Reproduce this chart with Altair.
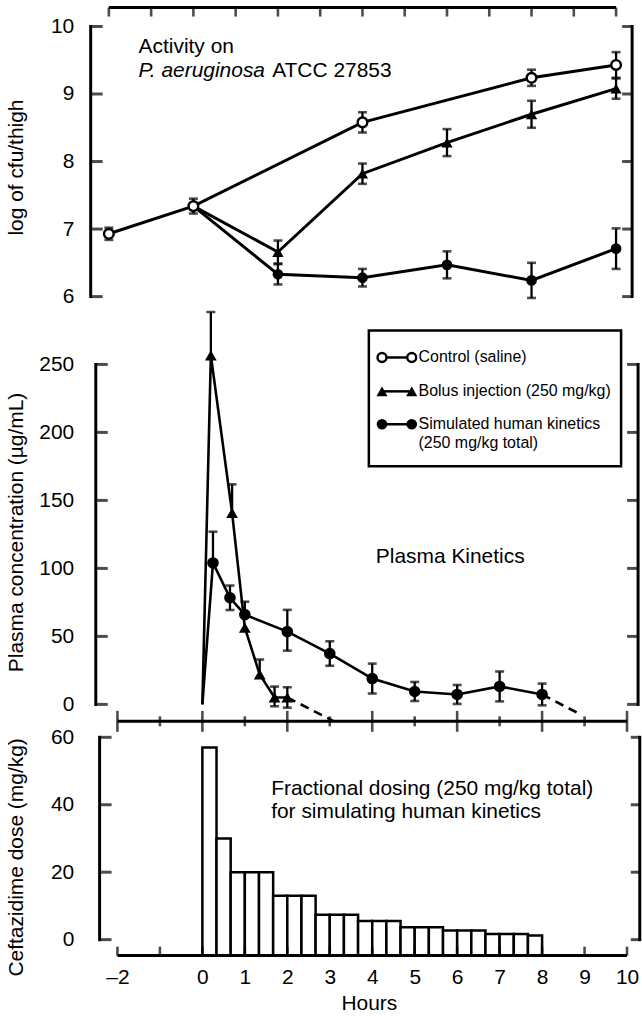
import altair as alt
import pandas as pd

FONT = "Liberation Sans"
INK = "black"

# ---------------------------------------------------------------
# Thigh counts, log10 cfu/thigh (mean, SD)
# ---------------------------------------------------------------
CTRL_HOURS = [-2, 0, 4, 8, 10]
CTRL_LOG_CFU = [6.93, 7.34, 8.58, 9.24, 9.43]
CTRL_LOG_SD = [0.09, 0.11, 0.15, 0.12, 0.19]

TREAT_HOURS = [0, 2, 4, 6, 8, 10]
BOLUS_LOG_CFU = [7.34, 6.66, 7.82, 8.28, 8.70, 9.08]
BOLUS_LOG_SD = [0.0, 0.17, 0.15, 0.20, 0.20, 0.15]
SIM_LOG_CFU = [7.34, 6.33, 6.28, 6.47, 6.24, 6.71]
SIM_LOG_SD = [0.0, 0.15, 0.13, 0.20, 0.26, 0.30]

# ---------------------------------------------------------------
# Plasma ceftazidime, µg/mL (mean, upper / lower error)
# ---------------------------------------------------------------
PK_START_HOURS = [0]
PK_START_CONC = [0]

BOLUS_PK_HOURS = [0.2, 0.7, 1.0, 1.35, 1.7, 2.0]
BOLUS_PK_CONC = [256.6, 140.8, 56.5, 22.0, 5.1, 5.1]
BOLUS_PK_ERR_UP = [32, 21, 0, 11, 8, 7.5]
BOLUS_PK_ERR_DOWN = [0, 0, 0, 0, 6.5, 7.5]

SIM_PK_HOURS = [0.25, 0.65, 1.0, 2, 3, 4, 5, 6, 7, 8]
SIM_PK_CONC = [104, 78.4, 66, 53.5, 37.4, 19, 9.5, 7.3, 13.2, 7.3]
SIM_PK_ERR_UP = [23, 9, 9.5, 16, 9, 11, 7, 7, 11, 8]
SIM_PK_ERR_DOWN = [0, 9, 0, 14, 9, 11, 7, 7, 11, 8]

# extrapolated (dashed) tails of the two concentration curves
BOLUS_TAIL_HOURS = [2.0, 3.07]
BOLUS_TAIL_CONC = [5.1, -12.0]
SIM_TAIL_HOURS = [8.0, 8.88]
SIM_TAIL_CONC = [7.3, -7.0]

# ---------------------------------------------------------------
# Fractional dosing: 24 doses given every 20 min (mg/kg)
# ---------------------------------------------------------------
DOSE_START_MIN = [0, 20, 40, 60, 80, 100, 120, 140, 160, 180, 200, 220,
                  240, 260, 280, 300, 320, 340, 360, 380, 400, 420, 440, 460]
DOSE_MG_KG = [57, 30, 20, 20, 20, 13, 13, 13, 7.4, 7.4, 7.4, 5.5,
              5.5, 5.5, 3.7, 3.7, 3.7, 2.7, 2.7, 2.7, 1.7, 1.7, 1.7, 1.2]
DOSE_SLOT_MIN = 20

HOUR_TICKS = [-2, -1, 0, 1, 2, 3, 4, 5, 6, 7, 8, 9, 10]
HOUR_LABELS = [-2, 0, 1, 2, 3, 4, 5, 6, 7, 8, 9, 10]

# ---------------------------------------------------------------
# scales and axes
# ---------------------------------------------------------------
W = 562
TOP_H, MID_H, BOT_H = 294, 422, 235

TOP_XS = alt.Scale(domain=[-2.665, 10.59], nice=False, zero=False)
TOP_YS = alt.Scale(domain=[5.94, 10.28], nice=False, zero=False)
PK_XS = alt.Scale(domain=[-2.864, 10.329], nice=False, zero=False)
PK_YS = alt.Scale(domain=[-12.46, 296.9], nice=False, zero=False)
DOSE_YS = alt.Scale(domain=[-4.73, 64.74], nice=False, zero=False)


def y_axis(values, title, title_y):
    return alt.Axis(values=values, title=title, domain=False, ticks=False, grid=False,
                    labelPadding=7, labelFont=FONT, labelFontSize=21, labelColor=INK,
                    labelOverlap=False,
                    titleFont=FONT, titleFontSize=21, titleFontWeight="normal",
                    titleColor=INK, titleAngle=270, titleX=-58, titleY=title_y,
                    titleAlign="center", titleBaseline="alphabetic")


HOURS_AXIS = alt.Axis(values=HOUR_LABELS,
                      labelExpr="datum.value < 0 ? '\u2013' + abs(datum.value) : datum.label",
                      domain=False, ticks=False, grid=False, labelFlush=False,
                      labelOverlap=False, labelPadding=11, labelFont=FONT,
                      labelFontSize=21, labelColor=INK,
                      title="Hours", titleFont=FONT, titleFontSize=21,
                      titleFontWeight="normal", titleColor=INK, titlePadding=5, titleX=289)

TOP_YA = y_axis([6, 7, 8, 9, 10], "log of cfu/thigh", 160)
MID_YA = y_axis([0, 50, 100, 150, 200, 250], "Plasma concentration (\u00b5g/mL)", 232)
BOT_YA = y_axis([0, 20, 40, 60], "Ceftazidime dose (mg/kg)", 136)


class Panel:
    def __init__(self, xs, ys, ya, xa=None):
        self.xs, self.ys, self.ya, self.xa = xs, ys, ya, xa
        self.layers = []

    def enc(self, x2=False, y2=False, text=False):
        e = {"x": alt.X("x:Q", scale=self.xs, axis=self.xa),
             "y": alt.Y("y:Q", scale=self.ys, axis=self.ya)}
        if x2:
            e["x2"] = alt.X2("x2:Q")
        if y2:
            e["y2"] = alt.Y2("y2:Q")
        if text:
            e["text"] = alt.Text("label:N")
        return e

    def add(self, frame, mark, **flags):
        self.layers.append(mark(alt.Chart(pd.DataFrame(frame))).encode(**self.enc(**flags)))

    # bracket-style axis line with inward ticks
    def spine(self, x, y0, y1, ticks, direction, length=12):
        self.add({"x": [x], "y": [y0], "y2": [y1]},
                 lambda c: c.mark_rule(color=INK, strokeWidth=3, strokeCap="square"), y2=True)
        self.add({"x": [x] * len(ticks), "y": ticks},
                 lambda c: c.mark_tick(orient="horizontal", size=length, thickness=3,
                                       xOffset=direction * length / 2, color=INK))

    def chart(self, h):
        return alt.layer(*self.layers).properties(width=W, height=h)


def error_frames(hours, vals, up, down):
    rules = {"x": [], "y": [], "y2": []}
    caps = {"x": [], "y": []}
    for h, v, u, d in zip(hours, vals, up, down):
        if u > 0 or d > 0:
            rules["x"].append(h)
            rules["y"].append(v - d)
            rules["y2"].append(v + u)
        if u > 0:
            caps["x"].append(h)
            caps["y"].append(v + u)
        if d > 0:
            caps["x"].append(h)
            caps["y"].append(v - d)
    return rules, caps


def line_mark(width=3, dash=None):
    if dash:
        return lambda c: c.mark_line(color=INK, strokeWidth=width, strokeDash=dash)
    return lambda c: c.mark_line(color=INK, strokeWidth=width)


rule_mark = lambda c: c.mark_rule(color=INK, strokeWidth=2.3)
cap_mark = lambda c: c.mark_tick(orient="horizontal", size=9, thickness=2.6, color=INK)
open_circle = lambda size: (lambda c: c.mark_point(shape="circle", filled=True, fill="white",
                                                   stroke=INK, strokeWidth=2.4, size=size, opacity=1))
dot = lambda size: (lambda c: c.mark_point(shape="circle", filled=True, color=INK, size=size, opacity=1))
tri = lambda size: (lambda c: c.mark_point(shape="triangle-up", filled=True, color=INK, size=size, opacity=1))


def text_mark(size=21, align="left", baseline="middle", style="normal"):
    return lambda c: c.mark_text(font=FONT, fontSize=size, align=align, baseline=baseline,
                                 fontStyle=style, color=INK)


# ---------------------------------------------------------------
# top panel: activity on P. aeruginosa
# ---------------------------------------------------------------
top = Panel(TOP_XS, TOP_YS, TOP_YA)
top.add({"x": [-2], "x2": [10], "y": [10.28]},
        lambda c: c.mark_rule(color=INK, strokeWidth=3), x2=True)
top.add({"x": HOUR_TICKS, "y": [10.28] * len(HOUR_TICKS)},
        lambda c: c.mark_tick(orient="vertical", size=9, thickness=2.6, yOffset=4.5, color=INK))
top.spine(-2.43, 6, 10, [6, 7, 8, 9, 10], +1, 12)
top.spine(10.38, 6, 10, [6, 7, 8, 9, 10], -1, 10)

top.add({"x": CTRL_HOURS, "y": CTRL_LOG_CFU}, line_mark())
top.add({"x": TREAT_HOURS, "y": BOLUS_LOG_CFU}, line_mark())
top.add({"x": TREAT_HOURS, "y": SIM_LOG_CFU}, line_mark())
for hrs, vals, sd in [(TREAT_HOURS, BOLUS_LOG_CFU, BOLUS_LOG_SD),
                      (TREAT_HOURS, SIM_LOG_CFU, SIM_LOG_SD),
                      (CTRL_HOURS, CTRL_LOG_CFU, CTRL_LOG_SD)]:
    r, c = error_frames(hrs, vals, sd, sd)
    top.add(r, rule_mark, y2=True)
    top.add(c, cap_mark)
top.add({"x": TREAT_HOURS[1:], "y": BOLUS_LOG_CFU[1:]}, tri(130))
top.add({"x": TREAT_HOURS[1:], "y": SIM_LOG_CFU[1:]}, dot(115))
top.add({"x": CTRL_HOURS, "y": CTRL_LOG_CFU}, open_circle(95))

top.add({"x": [-1.297], "y": [9.60], "label": ["Activity on"]},
        text_mark(baseline="alphabetic"), text=True)
top.add({"x": [-1.297], "y": [9.25], "label": ["P. aeruginosa"]},
        text_mark(baseline="alphabetic", style="italic"), text=True)
top.add({"x": [1.864], "y": [9.25], "label": ["ATCC 27853"]},
        text_mark(baseline="alphabetic"), text=True)

# ---------------------------------------------------------------
# middle panel: plasma kinetics
# ---------------------------------------------------------------
mid = Panel(PK_XS, PK_YS, MID_YA)
mid.spine(-2.51, 0, 250, [0, 50, 100, 150, 200, 250], +1, 12)
mid.spine(10.26, 0, 250, [0, 50, 100, 150, 200, 250], -1, 11)
mid.add({"x": [-2], "x2": [10], "y": [-12.46]},
        lambda c: c.mark_rule(color=INK, strokeWidth=3), x2=True)
major = [h for h in HOUR_TICKS if h % 2 == 0]
minor = [h for h in HOUR_TICKS if h % 2 != 0]
mid.add({"x": major, "y": [-12.46] * len(major)},
        lambda c: c.mark_tick(orient="vertical", size=21, thickness=2.6, color=INK))
mid.add({"x": minor, "y": [-12.46] * len(minor)},
        lambda c: c.mark_tick(orient="vertical", size=10, thickness=2.6, color=INK))

mid.add({"x": PK_START_HOURS + BOLUS_PK_HOURS, "y": PK_START_CONC + BOLUS_PK_CONC}, line_mark(2.6))
mid.add({"x": PK_START_HOURS + SIM_PK_HOURS, "y": PK_START_CONC + SIM_PK_CONC}, line_mark(2.6))
mid.add({"x": BOLUS_TAIL_HOURS, "y": BOLUS_TAIL_CONC}, line_mark(2.6, [9, 6]))
mid.add({"x": SIM_TAIL_HOURS, "y": SIM_TAIL_CONC}, line_mark(2.6, [9, 6]))
for hrs, vals, up, down in [(BOLUS_PK_HOURS, BOLUS_PK_CONC, BOLUS_PK_ERR_UP, BOLUS_PK_ERR_DOWN),
                            (SIM_PK_HOURS, SIM_PK_CONC, SIM_PK_ERR_UP, SIM_PK_ERR_DOWN)]:
    r, c = error_frames(hrs, vals, up, down)
    mid.add(r, rule_mark, y2=True)
    mid.add(c, cap_mark)
mid.add({"x": BOLUS_PK_HOURS, "y": BOLUS_PK_CONC}, tri(140))
mid.add({"x": SIM_PK_HOURS, "y": SIM_PK_CONC}, dot(135))

# legend box
mid.add({"x": [3.92], "x2": [9.86], "y": [175.2], "y2": [274.9]},
        lambda c: c.mark_rect(fill="white", stroke=INK, strokeWidth=2.5), x2=True, y2=True)
LEG_ROWS = [255.1, 230.2, 206.0]
mid.add({"x": [4.23] * 3, "x2": [4.93] * 3, "y": LEG_ROWS},
        lambda c: c.mark_rule(color=INK, strokeWidth=2.5), x2=True)
mid.add({"x": [4.23, 4.93], "y": [LEG_ROWS[0]] * 2}, open_circle(80))
mid.add({"x": [4.23, 4.93], "y": [LEG_ROWS[1]] * 2}, tri(125))
mid.add({"x": [4.23, 4.93], "y": [LEG_ROWS[2]] * 2}, dot(115))
mid.add({"x": [5.09] * 4, "y": LEG_ROWS + [192.1],
         "label": ["Control (saline)", "Bolus injection (250 mg/kg)",
                   "Simulated human kinetics", "(250 mg/kg total)"]},
        text_mark(size=16), text=True)

mid.add({"x": [4.084], "y": [108.5], "label": ["Plasma Kinetics"]}, text_mark(), text=True)

# ---------------------------------------------------------------
# bottom panel: fractional dosing
# ---------------------------------------------------------------
bot = Panel(PK_XS, DOSE_YS, BOT_YA, HOURS_AXIS)
bot.spine(-2.42, 0, 60, [0, 20, 40, 60], +1, 12)
bot.spine(10.3, 0, 60, [0, 20, 40, 60], -1, 9)

doses = {"x": [m / 60 for m in DOSE_START_MIN],
         "x2": [(m + DOSE_SLOT_MIN) / 60 for m in DOSE_START_MIN],
         "y": DOSE_MG_KG,
         "y2": [-4.73] * len(DOSE_MG_KG)}
bot.add(doses, lambda c: c.mark_rect(fill="white", stroke=INK, strokeWidth=2.5), x2=True, y2=True)
bot.add({"x": [-2], "x2": [10], "y": [-4.73]},
        lambda c: c.mark_rule(color=INK, strokeWidth=3), x2=True)
bot.add({"x": HOUR_TICKS, "y": [-4.73] * len(HOUR_TICKS)},
        lambda c: c.mark_tick(orient="vertical", size=9, thickness=2.6, yOffset=-4.5, color=INK))

bot.add({"x": [1.62, 1.62], "y": [44.64, 37.84],
         "label": ["Fractional dosing (250 mg/kg total)", "for simulating human kinetics"]},
        text_mark(), text=True)

chart = (
    alt.vconcat(top.chart(TOP_H), mid.chart(MID_H), bot.chart(BOT_H), spacing=0, bounds="flush")
    .properties(padding={"top": 4, "left": 5, "right": 0, "bottom": 0})
    .configure(font=FONT)
    .configure_view(strokeWidth=0)
)

chart.save("out.html", embed_options={"renderer": "svg", "actions": False})
